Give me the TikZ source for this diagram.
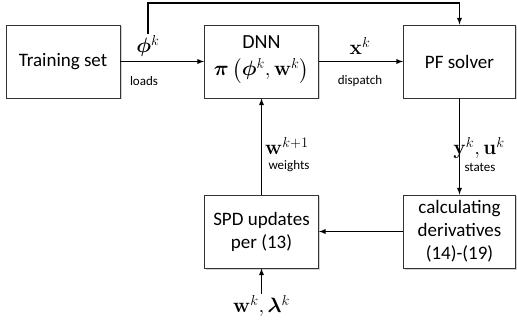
\documentclass[tikz,border=0pt]{standalone}
\usepackage{amsmath,bm}
\usepackage[no-math]{fontspec}
\setmainfont{Carlito}
\usetikzlibrary{arrows,
  shadows,
  positioning
}
\tikzstyle{block} = [draw=black!80, line width=0.8, fill=white,
  minimum width=114, minimum height=73, align=center,
  font=\fontsize{19}{23}\selectfont,
  drop shadow={shadow xshift=1.5pt, shadow yshift=-1.5pt, opacity=0.35}]
\tikzstyle{flow} = [line width=1.3, ->, >=latex]
\tikzstyle{lbl} = [font=\fontsize{20}{24}\selectfont, inner sep=1pt]
\tikzstyle{sub} = [font=\fontsize{13}{15}\selectfont, inner sep=1pt]

\begin{document}
\begin{tikzpicture}[x=1pt, y=-1pt]
  \useasboundingbox (0,0) rectangle (517,326);

  % boxes
  \node[block] (train) at (63,61.5) {Training set};
  \node[block, text depth=11pt] (dnn) at (261.5,61.5)
    {{\fontsize{20}{24}\selectfont DNN}\\[4pt]
    {\fontsize{20}{24}\selectfont
    $\bm{\pi}\left(\bm{\phi}^k,\mathbf{w}^k\right)$}};
  \node[block, minimum width=112] (pf) at (459.5,61.5) {PF solver};
  \node[block] (spd) at (261.5,231.5) {SPD updates\\per (13)};
  \node[block, minimum width=112] (calc) at (459.5,231.5)
    {calculating\\derivatives\\(14)-(19)};

  % labels
  \path (148,46) node[lbl] (phik) {$\bm{\phi}^k$};
  \path (144,81) node[sub] (loads) {loads};
  \path (360,46) node[lbl] (xk) {$\mathbf{x}^k$};
  \path (360,81) node[sub] (dispatch) {dispatch};
  \path (479,148) node[lbl] (yu) {$\mathbf{y}^k,\mathbf{u}^k$};
  \path (480,167) node[sub] (states) {states};
  \path (287,146) node[lbl] (wk1) {$\mathbf{w}^{k+1}$};
  \path (289,166) node[sub] (weights) {weights};
  \path (261.5,306) node[lbl] (wl) {$\mathbf{w}^k,\bm{\lambda}^k$};
  \coordinate (top) at (0,3);

  % connectors
  \draw[flow] (train) -- (dnn);
  \draw[flow] (dnn) -- (pf);
  \draw[flow] (phik.north) |- (pf.north |- top) -- (pf.north);
  \draw[flow] (pf) -- (calc);
  \draw[flow] (calc) -- (spd);
  \draw[flow] (spd) -- (dnn);
  \draw[flow] (wl) -- (spd);
\end{tikzpicture}
\end{document}
